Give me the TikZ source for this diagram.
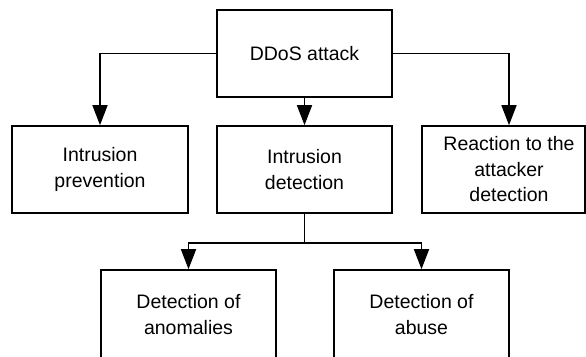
\documentclass[tikz,border=0pt]{standalone}
\usepackage{fontspec}
\setmainfont{Liberation Sans}
\usetikzlibrary{arrows.meta,calc}

\tikzset{
  box/.style={draw, line width=1.6pt, minimum width=175pt, minimum height=87pt,
    inner sep=0pt, align=center, font=\fontsize{19.5pt}{25.5pt}\selectfont},
  lbl/.style={inner sep=0pt, align=center, font=\fontsize{19.5pt}{25.5pt}\selectfont},
  arr/.style={line width=1.6pt, -{Triangle[length=20pt, width=15pt]}},
  link/.style={line width=1.6pt}
}

\begin{document}
\begin{tikzpicture}[x=1pt, y=-1pt]
  \useasboundingbox (0,0) rectangle (586,356);
  \clip (0,0) rectangle (586,356);

  % top level
  \node[box] (ddos) at (304.5,53.5) {DDoS attack};

  % second level
  \node[box, minimum width=176pt] (prev) at (100,169.5) {Intrusion\\prevention};
  \node[box] (det) at (304.5,169.5) {Intrusion\\detection};
  \node[box, minimum width=163pt] (react) at (503.5,169.5) {};
  \node[lbl] (reactlbl) at (509,169.5) {Reaction to the\\attacker\\detection};

  % third level (boxes run past the lower edge)
  \node[box, minimum height=92pt] (anom) at (188.5,316) {};
  \node[lbl] (anomlbl) at (188.5,314.5) {Detection of\\anomalies};
  \node[box, minimum height=92pt] (abuse) at (421.5,316) {};
  \node[lbl] (abuselbl) at (421.5,314.5) {Detection of\\abuse};

  % connectors
  \draw[arr] (ddos.west) -| (prev.north);
  \draw[arr] (ddos.south) -- (det.north);
  \draw[arr] (ddos.east) -| (reactlbl |- react.north);

  \coordinate (split) at ($(det.south)+(0,29)$);
  \draw[link] (det.south) -- (split);
  \draw[arr] (split) -| (anom.north);
  \draw[arr] (split) -| (abuse.north);
\end{tikzpicture}
\end{document}
